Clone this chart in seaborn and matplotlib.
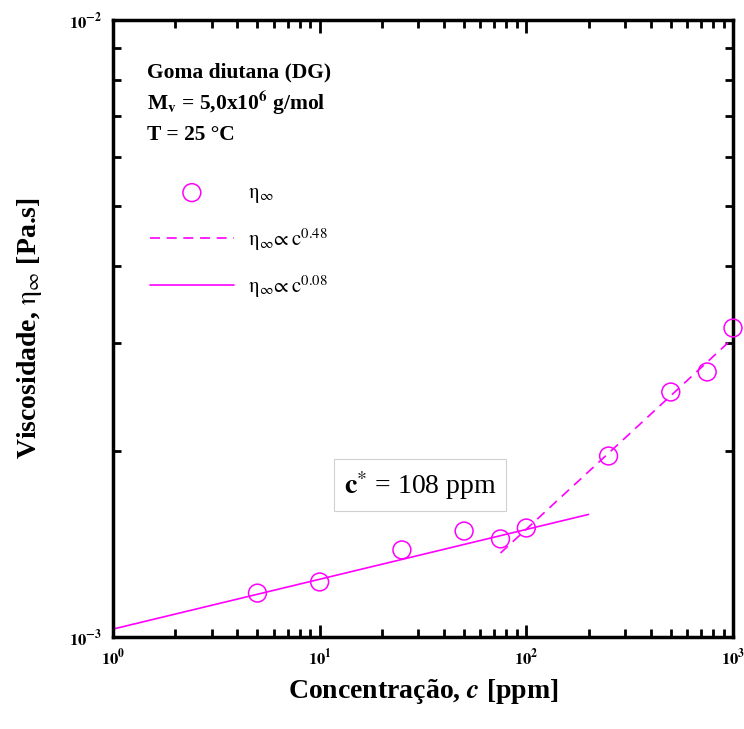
import numpy as np
import pandas as pd
import matplotlib
matplotlib.use("Agg")
import matplotlib.pyplot as plt
import seaborn as sns
from matplotlib.ticker import LogLocator, NullFormatter

# ---- data ----
conc = [5, 10, 25, 50, 75, 100, 250, 500, 750, 1000]
visc = [1.178e-3, 1.228e-3, 1.384e-3, 1.485e-3, 1.442e-3, 1.502e-3,
        1.965e-3, 2.495e-3, 2.689e-3, 3.168e-3]
fit_low_x = [1, 200]
fit_low_y = [1.03e-3, 1.58e-3]
fit_high_x = [75, 1000]
fit_high_y = [1.368e-3, 3.05e-3]
x_ticks = [1, 10, 100, 1000]
x_ticklabels = [r'$\mathbf{10^{0}}$', r'$\mathbf{10^{1}}$', r'$\mathbf{10^{2}}$', r'$\mathbf{10^{3}}$']
y_ticks = [1e-3, 1e-2]
y_ticklabels = [r'$\mathbf{10^{-3}}$', r'$\mathbf{10^{-2}}$']

sns.set_theme(style="ticks")
plt.rcParams['font.family'] = ['Liberation Serif', 'DejaVu Serif']
plt.rcParams['mathtext.fontset'] = 'stix'
for k in ['text.color', 'axes.labelcolor', 'xtick.color', 'ytick.color', 'axes.edgecolor']:
    plt.rcParams[k] = 'black'

MAG = '#ff00ff'

fig = plt.figure(figsize=(7.44, 7.29), dpi=100)
ax = fig.add_axes([113/744, 1-637/729, (733-113)/744, (637-20)/729])

df_pts = pd.DataFrame({'c': conc, 'eta': visc})
sns.scatterplot(data=df_pts, x='c', y='eta', ax=ax, marker='o', s=165,
                facecolor='none', edgecolor=MAG, linewidth=1.1,
                label=r'$\mathrm{\eta}_{\infty}$', zorder=3, clip_on=False)
sns.lineplot(x=fit_high_x, y=fit_high_y, ax=ax, color=MAG, lw=1.2,
             linestyle=(0, (6, 4)), label=r'$\mathrm{\eta}_{\infty}\!\propto \mathrm{c}^{0.48}$')
sns.lineplot(x=fit_low_x, y=fit_low_y, ax=ax, color=MAG, lw=1.2,
             label=r'$\mathrm{\eta}_{\infty}\!\propto \mathrm{c}^{0.08}$')

ax.set_xscale('log')
ax.set_yscale('log')
ax.set_xlim(1, 1000)
ax.set_ylim(1e-3, 1e-2)

ax.set_xticks(x_ticks)
ax.set_xticklabels(x_ticklabels, fontsize=12)
ax.set_yticks(y_ticks)
ax.set_yticklabels(y_ticklabels, fontsize=12)
ax.xaxis.set_minor_locator(LogLocator(base=10, subs=np.arange(2, 10)))
ax.yaxis.set_minor_locator(LogLocator(base=10, subs=np.arange(2, 10)))
ax.xaxis.set_minor_formatter(NullFormatter())
ax.yaxis.set_minor_formatter(NullFormatter())
ax.tick_params(which='both', direction='in', top=True, right=True,
               color='black', width=2)
ax.tick_params(which='major', length=9, pad=8)
ax.tick_params(which='minor', length=6)
for s in ax.spines.values():
    s.set_linewidth(2.5)
    s.set_color('black')

ax.set_xlabel(r'Concentração, $\mathbfit{c}$ [ppm]', fontsize=20,
              fontweight='bold', labelpad=6)
ax.set_ylabel(r'Viscosidade, $\mathrm{\eta}_{\infty}$ [Pa.s]', fontsize=20,
              fontweight='bold', labelpad=18)

# annotation text
ax.text(0.055, 0.915, 'Goma diutana (DG)', transform=ax.transAxes,
        fontsize=15.5, fontweight='bold', va='center')
ax.text(0.055, 0.866, r'M$_{\mathbf{v}}$ = 5,0x10$^{\mathbf{6}}$ g/mol',
        transform=ax.transAxes, fontsize=15.5, fontweight='bold', va='center')
ax.text(0.055, 0.813, r'T = 25 °C', transform=ax.transAxes,
        fontsize=15.5, fontweight='bold', va='center')

ax.text(0.495, 0.246, r'$\mathbf{c}^{*}$ = 108 ppm', transform=ax.transAxes,
        fontsize=20, ha='center', va='center',
        bbox=dict(boxstyle='square,pad=0.35', fc='white', ec='#d0d0d0', lw=0.8))

leg = ax.legend(loc='upper left', bbox_to_anchor=(0.06, 0.735), frameon=False,
                fontsize=15, handlelength=4.0, handletextpad=0.7,
                labelspacing=1.0, borderpad=0, borderaxespad=0)

fig.savefig('out.png', dpi=100)
